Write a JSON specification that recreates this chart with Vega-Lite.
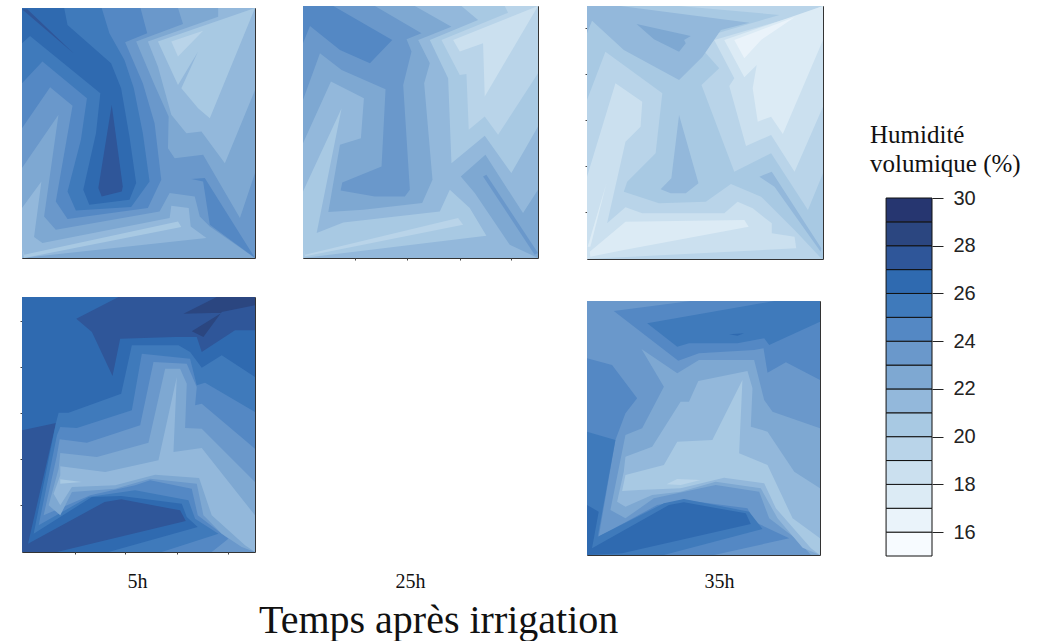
{"$schema":"https://vega.github.io/schema/vega-lite/v6.json","background":"white","padding":{"left":19,"top":5,"right":0,"bottom":0},
"title":{"text":"Temps après irrigation","orient":"bottom","anchor":"start","font":"Liberation Serif","fontSize":40,"fontWeight":"normal","color":"#111","dx":240,"offset":9},
"config":{"view":{"stroke":"#333","strokeWidth":1},"axis":{"grid":false,"labels":false,"domain":false,"tickSize":2,"tickColor":"#444","title":null,"titleFont":"Liberation Serif","titleFontSize":20,"titleFontWeight":"normal","titleColor":"#111"}},
"datasets":{
"a":[
{"k":"b","l":23,"x":[24,720,720,24],"y":[24,24,775,775]},
{"k":"n22","l":22,"x":[490,505,365,420,462,460,480,565,675,720,720],"y":[24,72,125,255,350,445,475,465,655,520,24]},
{"k":"n21","l":21,"x":[610,610,400,430,470,515,560,630,720,720],"y":[24,50,125,200,345,400,395,490,270,24]},
{"k":"n20","l":20,"x":[720,430,490,550,500,550,585],"y":[24,125,255,155,265,325,355]},
{"k":"n19","l":19,"x":[470,565,490],"y":[125,92,170]},
{"k":"s22","l":22,"x":[24,133,90,125,435,465,540,555,585,720,24],"y":[505,345,650,690,635,580,590,650,680,775,775]},
{"k":"s21","l":21,"x":[24,82,60,85,465,470,522,528,575,24],"y":[625,545,712,730,655,618,625,680,715,775]},
{"k":"s20","l":20,"x":[24,30,490,500,30],"y":[740,765,665,682,775]},
{"k":"m24","l":24,"x":[24,378,398,332,385,420,440,400,160,125,175,108,24],"y":[24,24,100,127,250,370,540,625,658,605,318,262,385]},
{"k":"r24","l":24,"x":[530,570,720,585,565],"y":[538,535,775,675,545]},
{"k":"m25","l":25,"x":[24,262,285,330,358,385,405,350,185,160,200,218,85,24],"y":[24,24,100,180,265,400,545,622,632,575,420,295,185,250]},
{"k":"m26","l":26,"x":[24,150,160,290,320,345,365,345,225,207,245,258,48,24],"y":[24,24,75,190,265,410,550,600,615,570,400,280,108,130]},
{"k":"m27","l":27,"x":[292,325,322,262,252],"y":[315,560,575,590,565]},
{"k":"t27","l":27,"x":[24,40,178],"y":[28,28,160]}
],
"b":[
{"k":"b","l":21,"x":[24,730,730,24],"y":[18,18,775,775]},
{"k":"m22","l":22,"x":[24,360,470,370,405,388,413,382,205,100,135,198,207,108,24],"y":[18,18,80,120,190,250,540,610,630,637,435,415,295,245,430]},
{"k":"m23","l":23,"x":[24,240,380,335,350,325,345,330,240,137,142,260,272,140,75,24],"y":[18,18,100,118,155,255,570,590,590,572,548,500,268,210,160,300]},
{"k":"m24","l":24,"x":[24,115,292,225,135,45,24],"y":[18,18,120,190,150,78,130]},
{"k":"r22","l":22,"x":[498,572,685,730,730,645,540],"y":[530,465,640,570,775,735,580]},
{"k":"r23","l":23,"x":[565,575,730,720],"y":[530,525,760,765]},
{"k":"n20","l":20,"x":[500,550,405,460,470,570,650,730,730],"y":[18,60,120,235,490,408,520,380,18]},
{"k":"n19","l":19,"x":[630,640,440,495,515,522,570,610,730,730],"y":[18,38,120,225,222,390,350,405,220,18]},
{"k":"n18","l":18,"x":[730,475,495,565,570],"y":[18,120,155,130,290]},
{"k":"s20","l":20,"x":[24,140,65,145,435,465,525,575,24],"y":[575,325,700,668,635,570,625,708,775]},
{"k":"s19","l":19,"x":[24,30,490,505,30],"y":[740,765,655,675,770]}
],
"c":[
{"k":"b","l":19,"x":[20,725,725,20],"y":[18,18,777,777]},
{"k":"m20","l":20,"x":[20,295,595,340,415,362,460,570,680,725,725,715,640,540,450,375,235,130,140,225,245,75,20],"y":[18,18,45,120,205,255,515,460,630,520,777,770,690,590,552,605,610,575,545,460,280,155,300]},
{"k":"m21","l":21,"x":[20,120,505,420,365,295,130,35,20],"y":[18,18,68,90,170,240,150,62,100]},
{"k":"m22","l":22,"x":[168,330,310,315,295,220],"y":[72,108,120,130,155,118]},
{"k":"c21","l":21,"x":[295,353,315,270,240,272],"y":[345,550,580,580,568,535]},
{"k":"r21","l":21,"x":[535,572,720,718,580],"y":[530,515,745,755,560]},
{"k":"n18","l":18,"x":[725,640,400,460,445,495,570,640,725],"y":[18,50,120,235,258,438,405,515,320]},
{"k":"n17","l":17,"x":[725,430,490,527,515,530,570,605,725],"y":[18,120,232,195,265,365,350,402,120]},
{"k":"n16","l":16,"x":[640,540,490,460],"y":[52,120,175,120]},
{"k":"s18","l":18,"x":[20,105,185,180,135,80,135,185,430,470,515,572,572,640,645,20],"y":[530,250,305,380,425,670,622,640,640,605,625,670,700,710,745,777]},
{"k":"s17","l":17,"x":[28,135,490,503,130,30],"y":[755,665,660,680,750,770]},
{"k":"t17","l":17,"x":[22,78,30],"y":[740,550,740]}
],
"d":[
{"k":"b","l":26,"x":[20,720,720,20],"y":[25,25,790,790]},
{"k":"t27","l":27,"x":[310,720,720,660,560,545,480,315,292,230,183],"y":[25,25,125,125,190,145,145,150,262,130,90]},
{"k":"t28","l":28,"x":[505,605,720,720,620,565,530,620],"y":[75,25,25,50,70,145,128,72]},
{"k":"l27","l":27,"x":[20,122,38,268,318,495,512,125,20],"y":[425,403,765,640,632,665,697,790,790]},
{"k":"m25","l":25,"x":[130,160,318,350,490,525,560,620,720,720,280,548,515,500,318,230,55,122],"y":[372,372,315,170,170,190,237,200,265,790,790,715,685,645,622,625,735,403]},
{"k":"m24","l":24,"x":[135,185,350,380,525,545,570,720,720,440,610,540,520,360,220,70,125],"y":[415,418,365,195,210,290,282,370,790,790,735,690,635,605,625,710,440]},
{"k":"m23","l":23,"x":[133,215,375,415,515,545,540,560,720,720,590,640,548,530,405,360,225,85,125],"y":[452,462,410,220,225,295,350,345,480,790,790,750,680,600,575,590,620,680,500]},
{"k":"m22","l":22,"x":[135,245,400,450,495,515,510,560,720,720,680,620,565,545,405,300,170,135,100,130],"y":[493,505,462,240,240,285,418,420,580,790,775,735,680,585,570,600,610,680,650,540]},
{"k":"m21","l":21,"x":[135,270,430,485,475,560,720,720,690,590,552,420,300,170,135,115,135],"y":[533,550,515,265,490,478,680,790,770,680,568,558,590,595,650,615,560]},
{"k":"m20","l":20,"x":[135,200,135],"y":[572,580,585]}
],
"e":[
{"k":"b","l":23,"x":[20,717,717,20],"y":[28,28,790,790]},
{"k":"t24","l":24,"x":[100,330,717,717,615,560,548,520,355,293],"y":[58,28,28,265,212,243,170,175,185,207]},
{"k":"t25","l":25,"x":[200,580,717,717,565,550,470,325,290],"y":[95,28,28,90,160,140,155,155,165]},
{"k":"t26","l":26,"x":[445,490,470],"y":[128,125,132]},
{"k":"w24","l":24,"x":[20,95,170,135,105,55,230,310,500,520,625,400,20],"y":[200,220,320,365,445,735,640,625,650,690,740,790,790]},
{"k":"w25","l":25,"x":[20,105,52,250,310,505,545,250,20],"y":[420,445,735,635,622,660,712,790,790]},
{"k":"w26","l":26,"x":[20,55,35,265,310,495,510,125,20],"y":[640,660,770,640,632,665,697,785,790]},
{"k":"m22","l":22,"x":[183,290,355,520,550,575,717,717,690,650,565,535,405,290,220,135,90,135,185,250],"y":[172,245,205,205,325,360,410,790,790,745,680,600,580,605,620,680,655,430,410,285]},
{"k":"m21","l":21,"x":[135,215,300,325,353,500,515,510,560,640,717,717,665,590,540,405,300,215,135,110,130],"y":[495,465,330,330,268,238,290,405,420,540,590,790,768,680,590,570,600,610,645,630,540]},
{"k":"m20","l":20,"x":[135,250,290,395,485,475,560,635,717,717,690,585,550,430,300,175,125],"y":[550,520,450,445,265,485,520,680,740,790,770,650,575,558,590,595,598]},
{"k":"m19","l":19,"x":[258,290,360,300],"y":[578,562,565,580]}
],
"leg":[{"lo":15,"hi":16},{"lo":16,"hi":17},{"lo":17,"hi":18},{"lo":18,"hi":19},{"lo":19,"hi":20},{"lo":20,"hi":21},{"lo":21,"hi":22},{"lo":22,"hi":23},{"lo":23,"hi":24},{"lo":24,"hi":25},{"lo":25,"hi":26},{"lo":26,"hi":27},{"lo":27,"hi":28},{"lo":28,"hi":29},{"lo":29,"hi":30}],
"none":[{"x":0}]
},
"spacing":45,
"hconcat":[
{"spacing":46,"hconcat":[
{"spacing":0,"vconcat":[
{"height":1,"width":233,"view":{"stroke":null},"data":{"name":"none"},"mark":{"type":"point","opacity":0,"size":0},"encoding":{}},
{"spacing":37,"vconcat":[
{"width":233,"height":250,"data":{"name":"a"},"transform":[{"flatten":["x","y"]}],"mark":{"type":"line","filled":true,"stroke":null},
"encoding":{"x":{"field":"x","type":"quantitative","axis":null,"scale":{"domain":[24,720],"nice":false,"zero":false}},"y":{"field":"y","type":"quantitative","axis":null,"scale":{"domain":[775,24],"nice":false,"zero":false}},"detail":{"field":"k"},"order":{"value":null},"color":{"field":"l","type":"ordinal","legend":null,"scale":{"domain":[15,16,17,18,19,20,21,22,23,24,25,26,27,28,29],"range":["#F7FBFF","#EAF3FA","#DCEBF5","#CBE0EF","#B9D4E9","#A8C9E3","#93B8DB","#7EA8D2","#6A98CB","#5488C4","#3F7ABB","#2F6AB0","#2F5699","#2B4680","#263670"]}}}},
{"width":233,"height":255,"data":{"name":"d"},"transform":[{"flatten":["x","y"]}],"mark":{"type":"line","filled":true,"stroke":null},
"encoding":{"x":{"field":"x","type":"quantitative","axis":{"values":[178,330,487,640],"title":"5h","titleX":115,"titlePadding":17},"scale":{"domain":[20,720],"nice":false,"zero":false}},"y":{"field":"y","type":"quantitative","axis":{"values":[97,235,372,510,648]},"scale":{"domain":[790,25],"nice":false,"zero":false}},"detail":{"field":"k"},"order":{"value":null},"color":{"field":"l","type":"ordinal","legend":null,"scale":{"domain":[15,16,17,18,19,20,21,22,23,24,25,26,27,28,29],"range":["#F7FBFF","#EAF3FA","#DCEBF5","#CBE0EF","#B9D4E9","#A8C9E3","#93B8DB","#7EA8D2","#6A98CB","#5488C4","#3F7ABB","#2F6AB0","#2F5699","#2B4680","#263670"]}}}}
]}
]},
{"spacing":38,"vconcat":[
{"width":235,"height":252,"data":{"name":"b"},"transform":[{"flatten":["x","y"]}],"mark":{"type":"line","filled":true,"stroke":null},
"encoding":{"x":{"field":"x","type":"quantitative","axis":{"values":[180,337,495,650]},"scale":{"domain":[24,730],"nice":false,"zero":false}},"y":{"field":"y","type":"quantitative","axis":null,"scale":{"domain":[775,18],"nice":false,"zero":false}},"detail":{"field":"k"},"order":{"value":null},"color":{"field":"l","type":"ordinal","legend":null,"scale":{"domain":[15,16,17,18,19,20,21,22,23,24,25,26,27,28,29],"range":["#F7FBFF","#EAF3FA","#DCEBF5","#CBE0EF","#B9D4E9","#A8C9E3","#93B8DB","#7EA8D2","#6A98CB","#5488C4","#3F7ABB","#2F6AB0","#2F5699","#2B4680","#263670"]}}}},
{"width":235,"height":255,"view":{"stroke":null},"data":{"name":"none"},"mark":{"type":"point","opacity":0,"size":0},"encoding":{"x":{"field":"x","type":"quantitative","axis":{"ticks":false,"title":"25h","titleX":107,"titlePadding":17}}}}
]}
]},
{"spacing":46,"hconcat":[
{"spacing":40,"vconcat":[
{"width":236,"height":253,"data":{"name":"c"},"transform":[{"flatten":["x","y"]}],"mark":{"type":"line","filled":true,"stroke":null},
"encoding":{"x":{"field":"x","type":"quantitative","axis":null,"scale":{"domain":[20,725],"nice":false,"zero":false}},"y":{"field":"y","type":"quantitative","axis":{"values":[85,222,360,497,635]},"scale":{"domain":[777,18],"nice":false,"zero":false}},"detail":{"field":"k"},"order":{"value":null},"color":{"field":"l","type":"ordinal","legend":null,"scale":{"domain":[15,16,17,18,19,20,21,22,23,24,25,26,27,28,29],"range":["#F7FBFF","#EAF3FA","#DCEBF5","#CBE0EF","#B9D4E9","#A8C9E3","#93B8DB","#7EA8D2","#6A98CB","#5488C4","#3F7ABB","#2F6AB0","#2F5699","#2B4680","#263670"]}}}},
{"width":233,"height":254,"data":{"name":"e"},"transform":[{"flatten":["x","y"]}],"mark":{"type":"line","filled":true,"stroke":null},
"encoding":{"x":{"field":"x","type":"quantitative","axis":{"ticks":false,"title":"35h","titleX":132,"titlePadding":16},"scale":{"domain":[20,717],"nice":false,"zero":false}},"y":{"field":"y","type":"quantitative","axis":null,"scale":{"domain":[790,28],"nice":false,"zero":false}},"detail":{"field":"k"},"order":{"value":null},"color":{"field":"l","type":"ordinal","legend":null,"scale":{"domain":[15,16,17,18,19,20,21,22,23,24,25,26,27,28,29],"range":["#F7FBFF","#EAF3FA","#DCEBF5","#CBE0EF","#B9D4E9","#A8C9E3","#93B8DB","#7EA8D2","#6A98CB","#5488C4","#3F7ABB","#2F6AB0","#2F5699","#2B4680","#263670"]}}}}
]},
{"spacing":116,"vconcat":[
{"height":1,"width":62,"view":{"stroke":null},"data":{"name":"none"},"mark":{"type":"point","opacity":0,"size":0},"encoding":{}},
{"width":62,"height":358,"view":{"stroke":null},"title":{"text":["Humidité","volumique (%)"],"anchor":"start","font":"Liberation Serif","fontSize":25,"fontWeight":"normal","color":"#111","lineHeight":29,"offset":11},
"data":{"name":"leg"},"mark":{"type":"rect","stroke":"#111","strokeWidth":1},
"encoding":{"x":{"datum":0,"type":"quantitative","scale":{"domain":[-0.35,1],"nice":false,"zero":false},"axis":null},"x2":{"datum":1},"y":{"field":"lo","type":"quantitative","scale":{"domain":[15,30],"nice":false,"zero":false},"axis":{"orient":"right","values":[16,18,20,22,24,26,28,30],"labels":true,"tickSize":11,"tickColor":"#222","labelFont":"Liberation Sans","labelFontSize":20,"labelColor":"#222","labelPadding":10}},"y2":{"field":"hi"},"color":{"field":"lo","type":"ordinal","legend":null,"scale":{"domain":[15,16,17,18,19,20,21,22,23,24,25,26,27,28,29],"range":["#F7FBFF","#EAF3FA","#DCEBF5","#CBE0EF","#B9D4E9","#A8C9E3","#93B8DB","#7EA8D2","#6A98CB","#5488C4","#3F7ABB","#2F6AB0","#2F5699","#2B4680","#263670"]}}}}
]}
]}
]}
